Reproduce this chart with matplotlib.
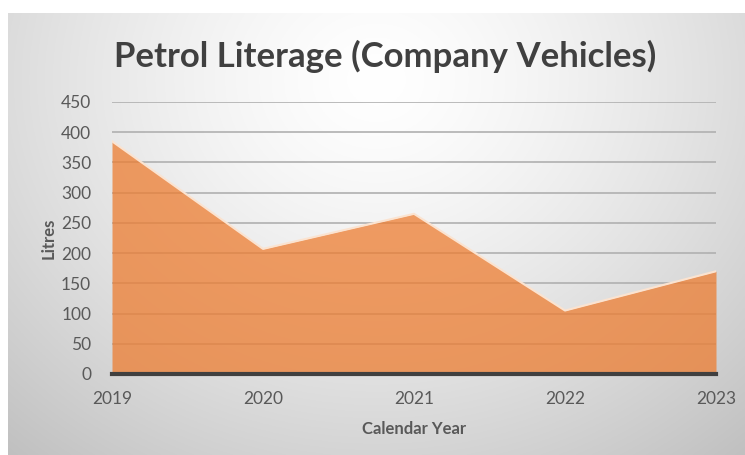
import numpy as np
import matplotlib
matplotlib.use("Agg")
import matplotlib.pyplot as plt

years = ["2019", "2020", "2021", "2022", "2023"]
litres = [385, 207, 265, 105, 170]
y_ticks = [0, 50, 100, 150, 200, 250, 300, 350, 400, 450]

plt.rcParams['font.family'] = ['Lato', 'DejaVu Sans']

W, H = 745, 455
fig = plt.figure(figsize=(W / 100, H / 100), dpi=100)
fig.patch.set_facecolor("white")

# background gradient panel
bg = fig.add_axes([8 / W, 0, 1 - 8 / W, (H - 13) / H])
yy, xx = np.mgrid[0:1:300j, 0:1:500j]
r = np.sqrt(((xx - 0.5) / 0.75) ** 2 + ((yy - 0.85) / 1.1) ** 2)
val = 1.0 - 0.24 * np.clip(r, 0, 1.2) ** 1.4
img = np.dstack([val, val, val])
bg.imshow(img, origin="lower", aspect="auto", extent=[0, 1, 0, 1])
bg.set_axis_off()

ax = fig.add_axes([112 / W, 81 / H, (716 - 112) / W, (374 - 102) / H])
ax.patch.set_alpha(0)
x = np.arange(len(years))
ax.set_xlim(0, len(years) - 1)
ax.set_ylim(0, 450)
ax.set_yticks(y_ticks)
ax.set_xticks(x)
ax.set_xticklabels(years)
ax.grid(axis="y", color="#b0b0b0", linewidth=1.2, zorder=0)
ax.set_axisbelow(True)
ax.fill_between(x, litres, 0, color="#ED7D31", alpha=0.75, linewidth=0, zorder=2)
ax.plot(x, litres, color="#fbe3d0", linewidth=1.5, zorder=3)
for s in ["top", "right", "left"]:
    ax.spines[s].set_visible(False)
ax.spines["bottom"].set_color("#404040")
ax.spines["bottom"].set_linewidth(3)
ax.spines["bottom"].set_zorder(4)
ax.tick_params(axis="both", length=0, labelsize=12.5, labelcolor="#595959")
ax.tick_params(axis="x", pad=12)
ax.tick_params(axis="y", pad=15)
ax.set_xlabel("Calendar Year", fontsize=12, fontweight="bold", color="#595959", labelpad=10)
ax.set_ylabel("Litres", fontsize=12, fontweight="bold", color="#595959", labelpad=3)

fig.text(385 / W, 1 - 56 / H, "Petrol Literage (Company Vehicles)", ha="center", va="center",
         fontsize=25, fontweight="bold", color="#404040")

fig.savefig("out.png", dpi=100)
